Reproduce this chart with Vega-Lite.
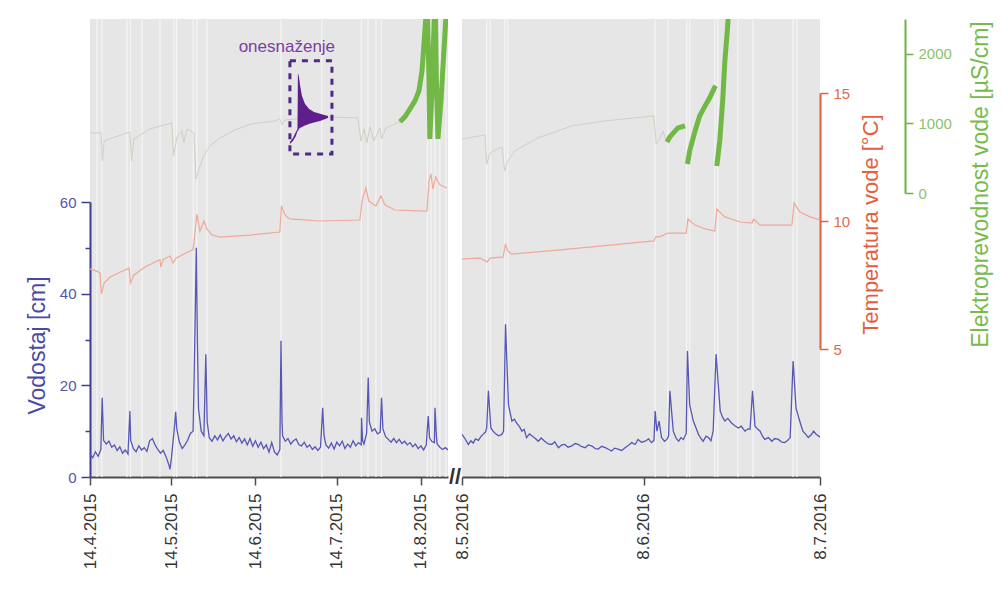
{
"$schema":"https://vega.github.io/schema/vega-lite/v6.json",
"padding":{"left":26,"top":18,"right":5,"bottom":5},
"bounds":"flush",
"spacing":14,
"config":{"font":"Liberation Sans","view":{"stroke":null,"fill":"#e6e6e6"}},
"datasets":{
"vL":[{"t":"2015-04-14 00","v":5.0},{"t":"2015-04-15 00","v":4.2},{"t":"2015-04-16 00","v":5.5},{"t":"2015-04-17 00","v":4.5},{"t":"2015-04-18 00","v":6.0},{"t":"2015-04-18 12","v":17.3},{"t":"2015-04-19 00","v":8.0},{"t":"2015-04-20 00","v":7.2},{"t":"2015-04-21 00","v":7.8},{"t":"2015-04-22 00","v":6.5},{"t":"2015-04-23 00","v":7.0},{"t":"2015-04-24 00","v":5.8},{"t":"2015-04-25 00","v":6.6},{"t":"2015-04-26 00","v":5.2},{"t":"2015-04-27 00","v":5.9},{"t":"2015-04-28 00","v":5.0},{"t":"2015-04-28 17","v":14.4},{"t":"2015-04-29 00","v":8.0},{"t":"2015-04-30 00","v":6.2},{"t":"2015-05-01 00","v":5.5},{"t":"2015-05-02 00","v":6.8},{"t":"2015-05-03 00","v":5.9},{"t":"2015-05-04 00","v":6.4},{"t":"2015-05-05 00","v":5.6},{"t":"2015-05-06 00","v":7.9},{"t":"2015-05-07 00","v":8.4},{"t":"2015-05-08 00","v":7.0},{"t":"2015-05-09 00","v":6.0},{"t":"2015-05-10 00","v":5.2},{"t":"2015-05-11 00","v":5.8},{"t":"2015-05-12 00","v":4.5},{"t":"2015-05-13 00","v":2.8},{"t":"2015-05-13 12","v":1.7},{"t":"2015-05-14 00","v":4.0},{"t":"2015-05-15 00","v":10.0},{"t":"2015-05-15 14","v":14.2},{"t":"2015-05-16 00","v":10.5},{"t":"2015-05-17 00","v":7.5},{"t":"2015-05-18 00","v":6.2},{"t":"2015-05-19 00","v":7.0},{"t":"2015-05-20 00","v":8.0},{"t":"2015-05-21 00","v":9.5},{"t":"2015-05-22 00","v":10.0},{"t":"2015-05-22 12","v":25.0},{"t":"2015-05-23 05","v":50.0},{"t":"2015-05-23 14","v":30.0},{"t":"2015-05-24 00","v":15.0},{"t":"2015-05-25 00","v":10.0},{"t":"2015-05-26 00","v":9.0},{"t":"2015-05-26 17","v":26.8},{"t":"2015-05-27 05","v":12.0},{"t":"2015-05-28 00","v":8.5},{"t":"2015-05-29 00","v":7.8},{"t":"2015-05-30 00","v":9.0},{"t":"2015-05-31 00","v":8.1},{"t":"2015-06-01 00","v":9.2},{"t":"2015-06-02 00","v":7.9},{"t":"2015-06-03 00","v":8.8},{"t":"2015-06-04 00","v":9.5},{"t":"2015-06-05 00","v":8.3},{"t":"2015-06-06 00","v":9.0},{"t":"2015-06-07 00","v":7.7},{"t":"2015-06-08 00","v":8.6},{"t":"2015-06-09 00","v":7.4},{"t":"2015-06-10 00","v":8.3},{"t":"2015-06-11 00","v":7.0},{"t":"2015-06-12 00","v":8.4},{"t":"2015-06-13 00","v":6.7},{"t":"2015-06-14 00","v":7.9},{"t":"2015-06-15 00","v":6.5},{"t":"2015-06-16 00","v":7.6},{"t":"2015-06-17 00","v":6.2},{"t":"2015-06-18 00","v":7.0},{"t":"2015-06-19 00","v":5.4},{"t":"2015-06-20 00","v":7.5},{"t":"2015-06-21 00","v":5.5},{"t":"2015-06-22 00","v":4.8},{"t":"2015-06-23 00","v":6.0},{"t":"2015-06-23 10","v":29.7},{"t":"2015-06-23 19","v":12.0},{"t":"2015-06-24 00","v":9.0},{"t":"2015-06-25 00","v":7.8},{"t":"2015-06-26 00","v":8.4},{"t":"2015-06-27 00","v":7.2},{"t":"2015-06-28 00","v":7.9},{"t":"2015-06-29 00","v":8.3},{"t":"2015-06-30 00","v":7.1},{"t":"2015-07-01 00","v":6.8},{"t":"2015-07-02 00","v":7.6},{"t":"2015-07-03 00","v":6.5},{"t":"2015-07-04 00","v":7.0},{"t":"2015-07-05 00","v":6.0},{"t":"2015-07-06 00","v":6.6},{"t":"2015-07-07 00","v":5.8},{"t":"2015-07-08 00","v":6.5},{"t":"2015-07-08 19","v":15.1},{"t":"2015-07-09 07","v":9.0},{"t":"2015-07-10 00","v":7.0},{"t":"2015-07-11 00","v":6.3},{"t":"2015-07-12 00","v":7.4},{"t":"2015-07-13 00","v":6.1},{"t":"2015-07-14 00","v":7.6},{"t":"2015-07-15 00","v":6.8},{"t":"2015-07-16 00","v":7.8},{"t":"2015-07-17 00","v":6.2},{"t":"2015-07-18 00","v":7.2},{"t":"2015-07-19 00","v":6.5},{"t":"2015-07-20 00","v":7.9},{"t":"2015-07-21 00","v":6.8},{"t":"2015-07-22 00","v":7.5},{"t":"2015-07-23 00","v":7.0},{"t":"2015-07-23 03","v":12.9},{"t":"2015-07-23 12","v":8.0},{"t":"2015-07-24 00","v":7.2},{"t":"2015-07-25 00","v":9.5},{"t":"2015-07-25 14","v":21.7},{"t":"2015-07-26 00","v":12.0},{"t":"2015-07-27 00","v":10.0},{"t":"2015-07-28 00","v":10.5},{"t":"2015-07-29 00","v":9.4},{"t":"2015-07-30 00","v":9.8},{"t":"2015-07-30 12","v":17.3},{"t":"2015-07-31 00","v":10.5},{"t":"2015-08-01 00","v":8.8},{"t":"2015-08-02 00","v":8.2},{"t":"2015-08-03 00","v":7.6},{"t":"2015-08-04 00","v":8.4},{"t":"2015-08-05 00","v":7.5},{"t":"2015-08-06 00","v":8.2},{"t":"2015-08-07 00","v":7.3},{"t":"2015-08-08 00","v":7.8},{"t":"2015-08-09 00","v":7.0},{"t":"2015-08-10 00","v":7.5},{"t":"2015-08-11 00","v":6.6},{"t":"2015-08-12 00","v":7.2},{"t":"2015-08-13 00","v":6.2},{"t":"2015-08-14 00","v":6.8},{"t":"2015-08-15 00","v":5.9},{"t":"2015-08-16 00","v":7.0},{"t":"2015-08-16 17","v":13.3},{"t":"2015-08-17 05","v":8.5},{"t":"2015-08-18 00","v":7.8},{"t":"2015-08-19 00","v":7.5},{"t":"2015-08-19 05","v":15.1},{"t":"2015-08-19 17","v":9.0},{"t":"2015-08-20 00","v":7.2},{"t":"2015-08-21 00","v":6.5},{"t":"2015-08-22 00","v":6.0},{"t":"2015-08-23 00","v":6.4},{"t":"2015-08-24 00","v":5.9}],
"tL":[{"t":"2015-04-14 00","T":8.13},{"t":"2015-04-16 05","T":8.05},{"t":"2015-04-17 17","T":7.97},{"t":"2015-04-18 05","T":7.15},{"t":"2015-04-19 05","T":7.58},{"t":"2015-04-21 10","T":7.81},{"t":"2015-04-25 02","T":8.0},{"t":"2015-04-28 10","T":8.16},{"t":"2015-04-28 22","T":7.58},{"t":"2015-04-30 05","T":7.89},{"t":"2015-05-04 07","T":8.2},{"t":"2015-05-08 00","T":8.4},{"t":"2015-05-09 19","T":8.48},{"t":"2015-05-10 02","T":8.2},{"t":"2015-05-11 00","T":8.5},{"t":"2015-05-13 12","T":8.63},{"t":"2015-05-14 14","T":8.36},{"t":"2015-05-15 17","T":8.55},{"t":"2015-05-20 02","T":8.79},{"t":"2015-05-22 00","T":8.87},{"t":"2015-05-22 17","T":9.53},{"t":"2015-05-23 10","T":10.27},{"t":"2015-05-24 12","T":9.6},{"t":"2015-05-26 00","T":10.0},{"t":"2015-05-27 02","T":9.69},{"t":"2015-05-29 00","T":9.45},{"t":"2015-05-31 22","T":9.37},{"t":"2015-06-12 00","T":9.45},{"t":"2015-06-23 00","T":9.57},{"t":"2015-06-23 14","T":10.59},{"t":"2015-06-24 22","T":10.23},{"t":"2015-06-26 17","T":10.08},{"t":"2015-07-07 19","T":10.0},{"t":"2015-07-22 12","T":10.04},{"t":"2015-07-23 07","T":10.78},{"t":"2015-07-24 17","T":11.29},{"t":"2015-07-25 19","T":10.78},{"t":"2015-07-28 10","T":10.59},{"t":"2015-07-30 07","T":10.98},{"t":"2015-07-31 17","T":10.63},{"t":"2015-08-04 10","T":10.43},{"t":"2015-08-16 05","T":10.39},{"t":"2015-08-17 00","T":11.56},{"t":"2015-08-17 17","T":11.84},{"t":"2015-08-18 10","T":11.25},{"t":"2015-08-19 12","T":11.72},{"t":"2015-08-21 00","T":11.41},{"t":"2015-08-23 14","T":11.29}],
"eL":[{"t":"2015-04-14 00","ec":863},{"t":"2015-04-18 02","ec":863},{"t":"2015-04-18 14","ec":460},{"t":"2015-04-19 05","ec":748},{"t":"2015-04-23 05","ec":806},{"t":"2015-04-28 17","ec":878},{"t":"2015-04-29 07","ec":460},{"t":"2015-04-30 05","ec":777},{"t":"2015-05-06 02","ec":921},{"t":"2015-05-14 05","ec":1007},{"t":"2015-05-14 19","ec":532},{"t":"2015-05-16 02","ec":806},{"t":"2015-05-17 22","ec":892},{"t":"2015-05-18 14","ec":719},{"t":"2015-05-19 19","ec":921},{"t":"2015-05-22 07","ec":863},{"t":"2015-05-23 02","ec":201},{"t":"2015-05-24 05","ec":345},{"t":"2015-05-25 17","ec":518},{"t":"2015-05-28 05","ec":676},{"t":"2015-05-31 22","ec":791},{"t":"2015-06-06 10","ec":906},{"t":"2015-06-12 17","ec":993},{"t":"2015-06-21 05","ec":1036},{"t":"2015-06-23 00","ec":1065},{"t":"2015-06-23 19","ec":978},{"t":"2015-06-24 22","ec":1050},{"t":"2015-07-07 19","ec":1094},{"t":"2015-07-21 19","ec":1079},{"t":"2015-07-22 22","ec":748},{"t":"2015-07-24 00","ec":921},{"t":"2015-07-25 02","ec":719},{"t":"2015-07-26 05","ec":950},{"t":"2015-07-27 17","ec":748},{"t":"2015-07-29 22","ec":935},{"t":"2015-07-30 14","ec":777},{"t":"2015-08-01 02","ec":935},{"t":"2015-08-06 07","ec":1022}],
"gL":[{"t":"2015-08-06 07","ec":1022,"s":"L"},{"t":"2015-08-08 02","ec":1094,"s":"L"},{"t":"2015-08-10 00","ec":1209,"s":"L"},{"t":"2015-08-11 19","ec":1324,"s":"L"},{"t":"2015-08-13 07","ec":1468,"s":"L"},{"t":"2015-08-14 10","ec":1755,"s":"L"},{"t":"2015-08-15 02","ec":2115,"s":"L"},{"t":"2015-08-15 19","ec":2504,"s":"L"},{"t":"2015-08-16 05","ec":3000,"s":"L"},{"t":"2015-08-17 00","ec":1612,"s":"L"},{"t":"2015-08-17 07","ec":777,"s":"L"},{"t":"2015-08-18 02","ec":1468,"s":"L"},{"t":"2015-08-18 19","ec":2331,"s":"L"},{"t":"2015-08-19 05","ec":3000,"s":"L"},{"t":"2015-08-19 17","ec":1612,"s":"L"},{"t":"2015-08-20 07","ec":777,"s":"L"},{"t":"2015-08-21 10","ec":1324,"s":"L"},{"t":"2015-08-22 12","ec":2043,"s":"L"},{"t":"2015-08-23 05","ec":2504,"s":"L"},{"t":"2015-08-23 14","ec":3000,"s":"L"}],
"evL":[{"t":"2015-04-16 14"},{"t":"2015-04-18 10"},{"t":"2015-04-27 14"},{"t":"2015-04-28 22"},{"t":"2015-05-03 05"},{"t":"2015-05-09 19"},{"t":"2015-05-15 00"},{"t":"2015-05-15 22"},{"t":"2015-05-22 02"},{"t":"2015-05-23 10"},{"t":"2015-05-27 02"},{"t":"2015-06-23 10"},{"t":"2015-07-08 12"},{"t":"2015-07-23 02"},{"t":"2015-07-25 12"},{"t":"2015-07-28 10"},{"t":"2015-07-30 10"},{"t":"2015-08-16 10"},{"t":"2015-08-17 17"},{"t":"2015-08-19 05"},{"t":"2015-08-21 00"},{"t":"2015-08-23 05"}],
"vR":[{"t":"2016-05-08 00","v":9.3},{"t":"2016-05-08 12","v":8.4},{"t":"2016-05-09 02","v":7.1},{"t":"2016-05-09 12","v":7.9},{"t":"2016-05-09 22","v":7.4},{"t":"2016-05-10 07","v":8.3},{"t":"2016-05-10 19","v":8.0},{"t":"2016-05-11 05","v":8.8},{"t":"2016-05-11 14","v":9.3},{"t":"2016-05-12 00","v":9.8},{"t":"2016-05-12 05","v":10.7},{"t":"2016-05-12 12","v":18.8},{"t":"2016-05-12 22","v":10.7},{"t":"2016-05-13 07","v":10.0},{"t":"2016-05-13 14","v":9.6},{"t":"2016-05-14 05","v":9.0},{"t":"2016-05-14 19","v":9.3},{"t":"2016-05-15 02","v":10.0},{"t":"2016-05-15 10","v":33.3},{"t":"2016-05-15 22","v":15.8},{"t":"2016-05-16 12","v":12.2},{"t":"2016-05-16 22","v":12.6},{"t":"2016-05-17 07","v":11.8},{"t":"2016-05-17 19","v":11.0},{"t":"2016-05-18 05","v":10.0},{"t":"2016-05-18 14","v":10.4},{"t":"2016-05-19 00","v":8.6},{"t":"2016-05-19 12","v":9.4},{"t":"2016-05-19 22","v":9.0},{"t":"2016-05-20 12","v":8.4},{"t":"2016-05-21 00","v":7.8},{"t":"2016-05-21 12","v":8.5},{"t":"2016-05-22 02","v":7.8},{"t":"2016-05-22 17","v":7.2},{"t":"2016-05-23 07","v":7.1},{"t":"2016-05-23 19","v":7.7},{"t":"2016-05-24 10","v":6.4},{"t":"2016-05-25 00","v":7.0},{"t":"2016-05-25 12","v":7.1},{"t":"2016-05-26 02","v":6.5},{"t":"2016-05-26 17","v":6.8},{"t":"2016-05-27 07","v":7.3},{"t":"2016-05-27 19","v":7.1},{"t":"2016-05-28 10","v":6.6},{"t":"2016-05-29 00","v":6.4},{"t":"2016-05-29 12","v":7.0},{"t":"2016-05-30 02","v":6.8},{"t":"2016-05-30 17","v":6.2},{"t":"2016-05-31 05","v":6.1},{"t":"2016-05-31 19","v":6.7},{"t":"2016-06-01 10","v":6.4},{"t":"2016-06-02 00","v":6.0},{"t":"2016-06-02 12","v":5.7},{"t":"2016-06-03 00","v":6.3},{"t":"2016-06-03 14","v":6.1},{"t":"2016-06-04 05","v":5.8},{"t":"2016-06-04 19","v":6.4},{"t":"2016-06-05 10","v":7.0},{"t":"2016-06-05 22","v":7.5},{"t":"2016-06-06 12","v":7.1},{"t":"2016-06-07 00","v":8.2},{"t":"2016-06-07 14","v":7.6},{"t":"2016-06-08 05","v":7.8},{"t":"2016-06-08 19","v":8.3},{"t":"2016-06-09 07","v":7.5},{"t":"2016-06-09 17","v":8.0},{"t":"2016-06-09 22","v":14.4},{"t":"2016-06-10 05","v":10.0},{"t":"2016-06-10 14","v":12.2},{"t":"2016-06-11 00","v":8.6},{"t":"2016-06-11 12","v":7.8},{"t":"2016-06-11 22","v":8.2},{"t":"2016-06-12 05","v":9.0},{"t":"2016-06-12 10","v":18.8},{"t":"2016-06-13 00","v":10.0},{"t":"2016-06-13 12","v":8.4},{"t":"2016-06-13 22","v":7.8},{"t":"2016-06-14 07","v":8.6},{"t":"2016-06-14 17","v":8.2},{"t":"2016-06-15 05","v":9.5},{"t":"2016-06-15 10","v":27.5},{"t":"2016-06-15 19","v":15.8},{"t":"2016-06-16 10","v":12.2},{"t":"2016-06-16 22","v":10.6},{"t":"2016-06-17 07","v":9.3},{"t":"2016-06-17 17","v":8.4},{"t":"2016-06-18 02","v":7.8},{"t":"2016-06-18 14","v":8.9},{"t":"2016-06-19 00","v":8.6},{"t":"2016-06-19 10","v":7.9},{"t":"2016-06-19 19","v":10.0},{"t":"2016-06-20 07","v":26.8},{"t":"2016-06-21 00","v":14.4},{"t":"2016-06-21 10","v":13.0},{"t":"2016-06-21 19","v":12.2},{"t":"2016-06-22 07","v":12.8},{"t":"2016-06-22 22","v":11.8},{"t":"2016-06-23 12","v":11.2},{"t":"2016-06-24 02","v":10.7},{"t":"2016-06-24 14","v":11.1},{"t":"2016-06-25 05","v":10.0},{"t":"2016-06-25 17","v":10.5},{"t":"2016-06-26 02","v":10.4},{"t":"2016-06-26 12","v":18.8},{"t":"2016-06-26 22","v":11.1},{"t":"2016-06-27 10","v":10.4},{"t":"2016-06-27 19","v":10.0},{"t":"2016-06-28 05","v":8.9},{"t":"2016-06-28 14","v":8.2},{"t":"2016-06-29 05","v":8.6},{"t":"2016-06-29 19","v":7.8},{"t":"2016-06-30 07","v":8.4},{"t":"2016-06-30 22","v":8.2},{"t":"2016-07-01 12","v":7.6},{"t":"2016-07-02 00","v":7.5},{"t":"2016-07-02 12","v":8.0},{"t":"2016-07-02 22","v":8.6},{"t":"2016-07-03 10","v":25.3},{"t":"2016-07-03 22","v":15.0},{"t":"2016-07-04 07","v":13.3},{"t":"2016-07-04 17","v":11.5},{"t":"2016-07-05 02","v":10.0},{"t":"2016-07-05 14","v":9.3},{"t":"2016-07-06 00","v":8.6},{"t":"2016-07-06 12","v":9.2},{"t":"2016-07-06 22","v":10.0},{"t":"2016-07-07 07","v":9.4},{"t":"2016-07-07 17","v":9.0},{"t":"2016-07-08 00","v":8.7}],
"tR":[{"t":"2016-05-08 00","T":8.52},{"t":"2016-05-11 02","T":8.55},{"t":"2016-05-12 07","T":8.4},{"t":"2016-05-12 19","T":8.55},{"t":"2016-05-15 00","T":8.6},{"t":"2016-05-15 10","T":9.1},{"t":"2016-05-15 19","T":8.83},{"t":"2016-05-16 12","T":8.71},{"t":"2016-05-24 17","T":8.87},{"t":"2016-05-31 12","T":9.02},{"t":"2016-06-09 17","T":9.22},{"t":"2016-06-10 00","T":9.38},{"t":"2016-06-10 17","T":9.38},{"t":"2016-06-12 02","T":9.53},{"t":"2016-06-15 05","T":9.53},{"t":"2016-06-15 12","T":10.08},{"t":"2016-06-16 17","T":9.84},{"t":"2016-06-18 10","T":9.69},{"t":"2016-06-20 02","T":9.61},{"t":"2016-06-20 10","T":10.47},{"t":"2016-06-21 19","T":10.16},{"t":"2016-06-24 10","T":9.96},{"t":"2016-06-26 10","T":9.92},{"t":"2016-06-26 17","T":10.08},{"t":"2016-06-27 19","T":9.84},{"t":"2016-07-03 05","T":9.84},{"t":"2016-07-03 14","T":10.7},{"t":"2016-07-04 14","T":10.35},{"t":"2016-07-06 07","T":10.16},{"t":"2016-07-08 00","T":10.04}],
"eR":[{"t":"2016-05-08 00","ec":777},{"t":"2016-05-11 22","ec":835},{"t":"2016-05-12 05","ec":417},{"t":"2016-05-12 19","ec":576},{"t":"2016-05-14 02","ec":633},{"t":"2016-05-14 19","ec":662},{"t":"2016-05-15 07","ec":317},{"t":"2016-05-15 19","ec":460},{"t":"2016-05-17 00","ec":604},{"t":"2016-05-20 22","ec":791},{"t":"2016-05-26 17","ec":964},{"t":"2016-06-01 10","ec":1036},{"t":"2016-06-09 17","ec":1108},{"t":"2016-06-10 02","ec":705},{"t":"2016-06-10 17","ec":777},{"t":"2016-06-11 05","ec":892},{"t":"2016-06-11 22","ec":734},{"t":"2016-06-12 10","ec":806}],
"gR":[{"t":"2016-06-11 22","ec":734,"s":"A"},{"t":"2016-06-12 10","ec":806,"s":"A"},{"t":"2016-06-13 19","ec":935,"s":"A"},{"t":"2016-06-15 00","ec":964,"s":"A"},{"t":"2016-06-15 10","ec":417,"s":"B"},{"t":"2016-06-15 19","ec":604,"s":"B"},{"t":"2016-06-16 17","ec":892,"s":"B"},{"t":"2016-06-17 12","ec":1108,"s":"B"},{"t":"2016-06-18 10","ec":1252,"s":"B"},{"t":"2016-06-19 05","ec":1367,"s":"B"},{"t":"2016-06-19 22","ec":1496,"s":"B"},{"t":"2016-06-20 05","ec":1540,"s":"B"},{"t":"2016-06-20 10","ec":388,"s":"C"},{"t":"2016-06-20 22","ec":748,"s":"C"},{"t":"2016-06-21 10","ec":1324,"s":"C"},{"t":"2016-06-21 19","ec":1899,"s":"C"},{"t":"2016-06-22 05","ec":2331,"s":"C"},{"t":"2016-06-22 12","ec":2700,"s":"C"}],
"evR":[{"t":"2016-05-12 05"},{"t":"2016-05-12 19"},{"t":"2016-05-15 07"},{"t":"2016-05-15 19"},{"t":"2016-06-09 22"},{"t":"2016-06-12 02"},{"t":"2016-06-15 07"},{"t":"2016-06-15 19"},{"t":"2016-06-20 02"},{"t":"2016-06-20 14"},{"t":"2016-06-24 00"},{"t":"2016-06-26 14"},{"t":"2016-07-03 10"},{"t":"2016-07-04 02"}],
"shp":[{"t":"2015-06-26 17","top":734,"bot":705},{"t":"2015-06-27 20","top":791,"bot":748},{"t":"2015-06-28 22","top":878,"bot":820},{"t":"2015-06-29 12","top":921,"bot":892},{"t":"2015-06-29 16","top":1727,"bot":892},{"t":"2015-06-30 01","top":1669,"bot":921},{"t":"2015-06-30 10","top":1554,"bot":935},{"t":"2015-07-01 03","top":1396,"bot":950},{"t":"2015-07-02 06","top":1281,"bot":971},{"t":"2015-07-03 17","top":1209,"bot":993},{"t":"2015-07-05 14","top":1165,"bot":1014},{"t":"2015-07-07 19","top":1137,"bot":1036},{"t":"2015-07-10 18","top":1108,"bot":1079}],
"box":[{"t":"2015-06-26 17","t2":"2015-07-12 05","y1":561,"y2":1899}],
"lab":[{"t":"2015-06-25 14","y":2101,"label":"onesnaženje"}],
"brk":[{"t":"2015-08-24 00","v":0}]
},
"hconcat":[
{
"width":358,"height":458,
"encoding":{"x":{"field":"t","type":"temporal","title":null,
 "scale":{"type":"utc","domain":[{"year":2015,"month":4,"date":14,"utc":true},{"year":2015,"month":8,"date":24,"utc":true}]},
 "axis":{"values":[{"year":2015,"month":4,"date":14,"utc":true},{"year":2015,"month":5,"date":14,"utc":true},{"year":2015,"month":6,"date":14,"utc":true},{"year":2015,"month":7,"date":14,"utc":true},{"year":2015,"month":8,"date":14,"utc":true}],
  "labelExpr":"utcFormat(datum.value, '%-d.%-m.%Y')","labelAngle":270,"labelFontSize":17,"labelColor":"#333333","labelPadding":8,
  "domainColor":"#4d4d4d","domainWidth":2,"tickColor":"#4d4d4d","tickWidth":1.5,"tickSize":8,"grid":false}}},
"resolve":{"scale":{"y":"independent"}},
"layer":[
{"data":{"name":"evL","format":{"parse":{"t":"utc:'%Y-%m-%d %H'"}}},"mark":{"type":"rule","color":"#f5f5f5","strokeWidth":1.2},"encoding":{}},
{"data":{"name":"eL","format":{"parse":{"t":"utc:'%Y-%m-%d %H'"}}},"mark":{"type":"line","color":"#cdd2c3","strokeWidth":1,"clip":true},
 "encoding":{"y":{"field":"ec","type":"quantitative","scale":{"domain":[0,2500],"range":[174,0],"nice":false,"zero":false},"axis":null}}},
{"data":{"name":"gL","format":{"parse":{"t":"utc:'%Y-%m-%d %H'"}}},"mark":{"type":"line","color":"#72b846","strokeWidth":5,"clip":true},
 "encoding":{"detail":{"field":"s"},"y":{"field":"ec","type":"quantitative","scale":{"domain":[0,2500],"range":[174,0],"nice":false,"zero":false},"axis":null}}},
{"data":{"name":"tL","format":{"parse":{"t":"utc:'%Y-%m-%d %H'"}}},"mark":{"type":"line","color":"#f0a898","strokeWidth":1.2,"clip":true},
 "encoding":{"y":{"field":"T","type":"quantitative","scale":{"domain":[5,15],"range":[330,74],"nice":false,"zero":false},"axis":null}}},
{"data":{"name":"vL","format":{"parse":{"t":"utc:'%Y-%m-%d %H'"}}},"mark":{"type":"line","color":"#5757b5","strokeWidth":1.3,"clip":true},
 "encoding":{"y":{"field":"v","type":"quantitative","title":"Vodostaj [cm]","scale":{"domain":[0,60],"range":[458,183],"nice":false,"zero":false},
  "axis":{"orient":"left","values":[0,10,20,30,40,50,60],"labelExpr":"datum.value % 20 === 0 ? datum.label : ''",
   "domainColor":"#3d3d92","domainWidth":2,"tickColor":"#3d3d92","tickWidth":1.5,"tickSize":{"condition":{"test":"datum.value % 20 === 0","value":9},"value":5},
   "labelColor":"#5454a8","labelFontSize":15,"labelPadding":5,"grid":false,
   "titleColor":"#4a4aa6","titleFontSize":23,"titleFontWeight":"normal","titleAngle":270,"titleX":-53,"titleY":326,"titleBaseline":"middle","titleAlign":"center"}}}},
{"data":{"name":"shp","format":{"parse":{"t":"utc:'%Y-%m-%d %H'"}}},"mark":{"type":"area","color":"#5e1f8c","opacity":1},
 "encoding":{"y":{"field":"top","type":"quantitative","scale":{"domain":[0,2500],"range":[174,0],"nice":false,"zero":false},"axis":null},"y2":{"field":"bot"}}},
{"data":{"name":"box","format":{"parse":{"t":"utc:'%Y-%m-%d %H'","t2":"utc:'%Y-%m-%d %H'"}}},"mark":{"type":"rect","filled":false,"stroke":"#4e2a80","strokeWidth":3,"strokeDash":[6,6]},
 "encoding":{"x2":{"field":"t2"},"y":{"field":"y1","type":"quantitative","scale":{"domain":[0,2500],"range":[174,0],"nice":false,"zero":false},"axis":null},"y2":{"field":"y2"}}},
{"data":{"name":"lab","format":{"parse":{"t":"utc:'%Y-%m-%d %H'"}}},"mark":{"type":"text","color":"#7a3ea3","fontSize":17,"align":"center","baseline":"middle"},
 "encoding":{"text":{"field":"label"},"y":{"field":"y","type":"quantitative","scale":{"domain":[0,2500],"range":[174,0],"nice":false,"zero":false},"axis":null}}},
{"data":{"name":"brk","format":{"parse":{"t":"utc:'%Y-%m-%d %H'"}}},"mark":{"type":"text","text":"//","color":"#333333","fontSize":22,"fontWeight":"bold","dx":7,"align":"center","baseline":"middle","clip":false},
 "encoding":{"y":{"field":"v","type":"quantitative","scale":{"domain":[0,60],"range":[458,183],"nice":false,"zero":false},"axis":null}}}
]
},
{
"width":358,"height":458,
"encoding":{"x":{"field":"t","type":"temporal","title":null,
 "scale":{"type":"utc","domain":[{"year":2016,"month":5,"date":8,"utc":true},{"year":2016,"month":7,"date":8,"utc":true}]},
 "axis":{"values":[{"year":2016,"month":5,"date":8,"utc":true},{"year":2016,"month":6,"date":8,"utc":true},{"year":2016,"month":7,"date":8,"utc":true}],
  "labelExpr":"utcFormat(datum.value, '%-d.%-m.%Y')","labelAngle":270,"labelFontSize":17,"labelColor":"#333333","labelPadding":8,
  "domainColor":"#4d4d4d","domainWidth":2,"tickColor":"#4d4d4d","tickWidth":1.5,"tickSize":8,"grid":false}}},
"resolve":{"scale":{"y":"independent"}},
"layer":[
{"data":{"name":"evR","format":{"parse":{"t":"utc:'%Y-%m-%d %H'"}}},"mark":{"type":"rule","color":"#f5f5f5","strokeWidth":1.2},"encoding":{}},
{"data":{"name":"eR","format":{"parse":{"t":"utc:'%Y-%m-%d %H'"}}},"mark":{"type":"line","color":"#cdd2c3","strokeWidth":1,"clip":true},
 "encoding":{"y":{"field":"ec","type":"quantitative","title":"Elektroprevodnost vode [µS/cm]","scale":{"domain":[0,2500],"range":[174,0],"nice":false,"zero":false},
  "axis":{"orient":"right","offset":85,"values":[0,1000,2000],"format":"d","domainColor":"#6db33f","domainWidth":2,"tickColor":"#6db33f","tickWidth":1.5,"tickSize":8,
   "labelColor":"#8cc26a","labelFontSize":15,"labelPadding":5,"grid":false,
   "titleColor":"#78ba4c","titleFontSize":23,"titleFontWeight":"normal","titleAngle":270,"titleX":75,"titleY":165,"titleBaseline":"middle","titleAlign":"center"}}}},
{"data":{"name":"gR","format":{"parse":{"t":"utc:'%Y-%m-%d %H'"}}},"mark":{"type":"line","color":"#72b846","strokeWidth":5,"clip":true},
 "encoding":{"detail":{"field":"s"},"y":{"field":"ec","type":"quantitative","scale":{"domain":[0,2500],"range":[174,0],"nice":false,"zero":false},"axis":null}}},
{"data":{"name":"tR","format":{"parse":{"t":"utc:'%Y-%m-%d %H'"}}},"mark":{"type":"line","color":"#f0a898","strokeWidth":1.2,"clip":true},
 "encoding":{"y":{"field":"T","type":"quantitative","title":"Temperatura vode [°C]","scale":{"domain":[5,15],"range":[330,74],"nice":false,"zero":false},
  "axis":{"orient":"right","offset":0,"values":[5,10,15],"domainColor":"#e0603f","domainWidth":2,"tickColor":"#e0603f","tickWidth":1.5,"tickSize":8,
   "labelColor":"#e26a4c","labelFontSize":15,"labelPadding":5,"grid":false,
   "titleColor":"#e45f3f","titleFontSize":22,"titleFontWeight":"normal","titleAngle":270,"titleX":50,"titleY":205,"titleBaseline":"middle","titleAlign":"center"}}}},
{"data":{"name":"vR","format":{"parse":{"t":"utc:'%Y-%m-%d %H'"}}},"mark":{"type":"line","color":"#5757b5","strokeWidth":1.3,"clip":true},
 "encoding":{"y":{"field":"v","type":"quantitative","scale":{"domain":[0,60],"range":[458,183],"nice":false,"zero":false},"axis":null}}}
]
}
]
}
